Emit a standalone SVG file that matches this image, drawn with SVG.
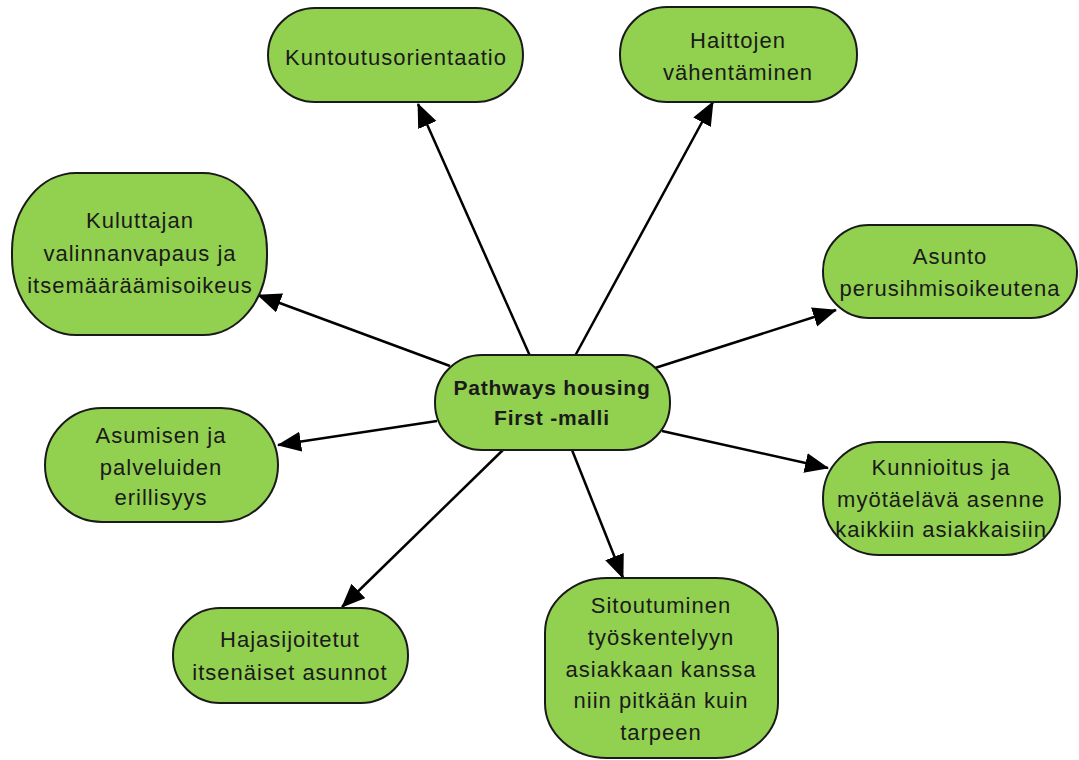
<svg xmlns="http://www.w3.org/2000/svg" width="1079" height="760" viewBox="0 0 1079 760">
<style>
.node{fill:#92D050;stroke:#1a1a1a;stroke-width:2}
.t{font-family:"Liberation Sans",Arial,sans-serif;font-size:22px;letter-spacing:1px;fill:#1a1a1a;text-anchor:middle}
.b{font-weight:bold;font-size:21px;letter-spacing:0.8px}
.c{stroke:#000;stroke-width:2.5;fill:none;marker-end:url(#ah)}
</style>
<defs>
<marker id="ah" markerUnits="userSpaceOnUse" markerWidth="26" markerHeight="22" refX="23" refY="10" orient="auto">
<path d="M0,0 L24,10 L0,20 Z" fill="#000"/>
</marker>
</defs>
<rect width="1079" height="760" fill="#fff"/>
<g id="connectors">
<line class="c" x1="530" y1="356" x2="418" y2="104"/>
<line class="c" x1="575" y1="356" x2="713" y2="102"/>
<line class="c" x1="450" y1="366" x2="258" y2="295"/>
<line class="c" x1="655" y1="368" x2="836" y2="310"/>
<line class="c" x1="437" y1="421" x2="278" y2="445"/>
<line class="c" x1="662" y1="431" x2="828" y2="468"/>
<line class="c" x1="505" y1="448" x2="342" y2="607"/>
<line class="c" x1="572" y1="450" x2="623" y2="578"/>
</g>
<g id="center">
<rect class="node" x="435" y="355" width="235" height="95" rx="47"/>
<text class="t b" x="552" y="395">Pathways housing</text>
<text class="t b" x="552" y="425">First -malli</text>
</g>
<g id="kuntoutus">
<rect class="node" x="268" y="8" width="255" height="94" rx="47"/>
<text class="t" x="396" y="65">Kuntoutusorientaatio</text>
</g>
<g id="haittojen">
<rect class="node" x="620" y="7" width="237" height="95" rx="47"/>
<text class="t" x="738" y="48">Haittojen</text>
<text class="t" x="738" y="80">vähentäminen</text>
</g>
<g id="kuluttajan">
<rect class="node" x="12" y="173" width="255" height="162" rx="64" ry="78"/>
<text class="t" x="140" y="228">Kuluttajan</text>
<text class="t" x="140" y="261">valinnanvapaus ja</text>
<text class="t" x="140" y="293">itsemääräämisoikeus</text>
</g>
<g id="asunto">
<rect class="node" x="823" y="225" width="254" height="93" rx="46"/>
<text class="t" x="950" y="264">Asunto</text>
<text class="t" x="950" y="296">perusihmisoikeutena</text>
</g>
<g id="asumisen">
<rect class="node" x="45" y="408" width="233" height="114" rx="57"/>
<text class="t" x="161" y="443">Asumisen ja</text>
<text class="t" x="161" y="475">palveluiden</text>
<text class="t" x="161" y="505">erillisyys</text>
</g>
<g id="kunnioitus">
<rect class="node" x="823" y="442" width="237" height="113" rx="56"/>
<text class="t" x="941" y="475">Kunnioitus ja</text>
<text class="t" x="941" y="507">myötäelävä asenne</text>
<text class="t" x="941" y="537">kaikkiin asiakkaisiin</text>
</g>
<g id="hajasijoitetut">
<rect class="node" x="173" y="608" width="235" height="95" rx="47"/>
<text class="t" x="290" y="647">Hajasijoitetut</text>
<text class="t" x="290" y="680">itsenäiset asunnot</text>
</g>
<g id="sitoutuminen">
<rect class="node" x="545" y="578" width="233" height="180" rx="62" ry="55"/>
<text class="t" x="661" y="613">Sitoutuminen</text>
<text class="t" x="661" y="645">työskentelyyn</text>
<text class="t" x="661" y="677">asiakkaan kanssa</text>
<text class="t" x="661" y="708">niin pitkään kuin</text>
<text class="t" x="661" y="740">tarpeen</text>
</g>
</svg>
